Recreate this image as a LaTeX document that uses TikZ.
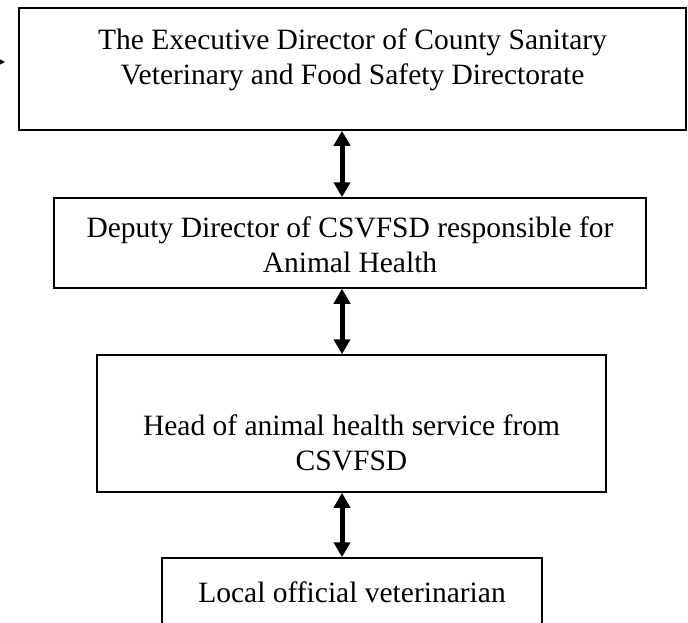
\documentclass[tikz,border=0pt]{standalone}
\usepackage{fontspec}
\setmainfont{Liberation Serif}
\usetikzlibrary{arrows.meta}

\begin{document}
\begin{tikzpicture}[x=1pt, y=-1pt,
    box/.style={draw=black, line width=1.5pt, inner sep=0pt, align=center,
      font=\fontsize{29.5}{35}\selectfont},
    link/.style={line width=5pt,
      {Triangle[width=16pt,length=15pt]}-{Triangle[width=16pt,length=15pt]}}]
    \useasboundingbox (0,0) rectangle (688,622);
    \clip (0,0) rectangle (688,622);
    \coordinate (axis) at (342,0);
    % boxes, top to bottom
    \node [box, minimum width=667pt, text height=76pt, text depth=46pt] (exec) at (352.5,69)
        {The Executive Director of County Sanitary\\ Veterinary and Food Safety Directorate};
    \node [box, minimum width=592pt, text height=74pt, text depth=16pt] (deputy) at (350,243)
        {Deputy Director of CSVFSD responsible for\\ Animal Health};
    \node [box, minimum width=509pt, text height=115pt, text depth=22pt] (head) at (351.5,423.5)
        {Head of animal health service from\\ CSVFSD};
    \node [box, minimum width=380pt, text height=44pt, text depth=35pt] (local) at (352,597.5)
        {Local official veterinarian};
    % links
    \draw [link] (exec.south -| axis) -- (deputy.north -| axis);
    \draw [link] (deputy.south -| axis) -- (head.north -| axis);
    \draw [link] (head.south -| axis) -- (local.north -| axis);
    % arrow coming in from the left edge
    \coordinate (offleft) at (-20,62);
    \coordinate (inleft) at (5,62);
    \draw [line width=0.8pt, -{Triangle[width=5pt,length=5pt]}] (offleft) -- (inleft);
\end{tikzpicture}
\end{document}
